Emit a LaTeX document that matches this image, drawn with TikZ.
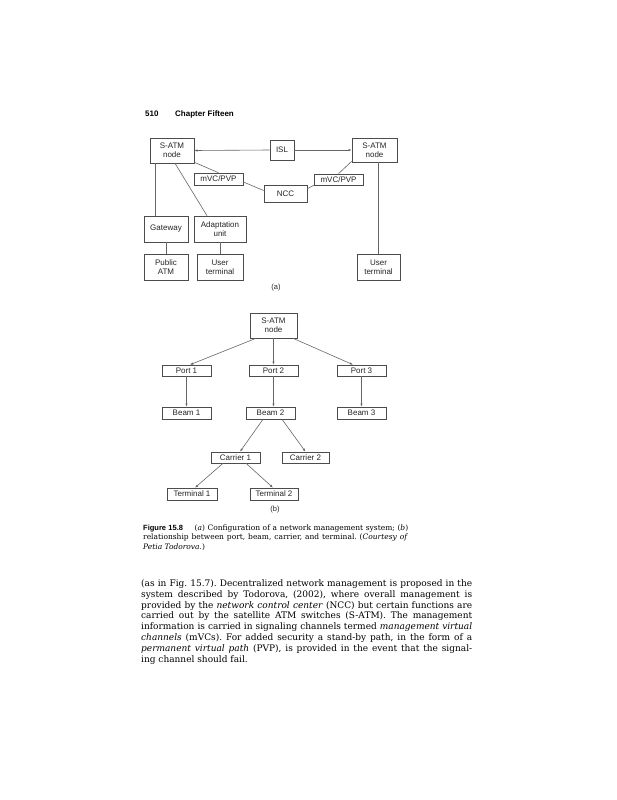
\documentclass[tikz,border=0pt]{standalone}
\usepackage{fontspec}
\setmainfont{DejaVu Serif}
\setsansfont{Liberation Sans}
\usetikzlibrary{arrows.meta}
\frenchspacing
\newcommand{\bodyfnt}{\fontsize{9}{11}\selectfont\rmfamily}
\newcommand{\capfnt}{\fontsize{7.5}{9}\selectfont\rmfamily}
\newcommand{\boxfnt}{\fontsize{8}{9}\selectfont\sffamily}
\begin{document}
\begin{tikzpicture}[x=1pt,y=-1pt,
  box/.style={draw=black!70, line width=0.6pt, fill=white, inner sep=0pt, font=\boxfnt, align=center, text=black!85},
  conn/.style={draw=black!60, line width=0.6pt},
  arr/.style={conn, -{Latex[length=3.2pt,width=2.4pt]}},
  lbl/.style={font=\fontsize{7.5}{8}\selectfont\sffamily, inner sep=0pt, text=black!85},
  txt/.style={anchor=base west, inner sep=0pt, text=black},
]
\useasboundingbox[fill=white] (0,0) rectangle (617,800);

% header
\node[txt, font=\fontsize{8}{9}\selectfont\sffamily\bfseries] (pg) at (145,116.5) {510};
\node[txt, font=\fontsize{8}{9}\selectfont\sffamily\bfseries] (chap) at (175,116.5) {Chapter Fifteen};

% ---------- diagram (a) ----------
\node[box, minimum width=44pt, minimum height=25pt] (satmL) at (172,150.5) {S-ATM\\node};
\node[box, minimum width=24pt, minimum height=20pt] (isl) at (282,150) {ISL};
\node[box, minimum width=45pt, minimum height=24pt] (satmR) at (374.5,150) {S-ATM\\node};
\node[box, minimum width=49pt, minimum height=12pt] (mvcL) at (218.5,179) {mVC/PVP};
\node[box, minimum width=43pt, minimum height=17pt] (ncc) at (285.5,193.5) {NCC};
\node[box, minimum width=49pt, minimum height=11pt] (mvcR) at (338.5,179.5) {mVC/PVP};
\node[box, minimum width=44pt, minimum height=26pt] (gate) at (166,229) {Gateway};
\node[box, minimum width=52pt, minimum height=26pt] (adapt) at (220,229) {Adaptation\\unit};
\node[box, minimum width=44pt, minimum height=26pt] (pub) at (166,267) {Public\\ATM};
\node[box, minimum width=46pt, minimum height=26pt] (userL) at (220,267) {User\\terminal};
\node[box, minimum width=43pt, minimum height=26pt] (userR) at (378.5,267) {User\\terminal};
\node[lbl] (la) at (276,288) {(a)};

\draw[arr] (isl.west) -- (satmL.east);
\draw[arr] (isl.east) -- (satmR.west);
\draw[conn] ([yshift=1pt]satmL.south east) -- (mvcL.north);
\draw[conn] ([yshift=-3pt]mvcL.east) -- ([yshift=3pt]ncc.west);
\draw[conn] ([yshift=-4pt]ncc.north east) -- (mvcR.south west);
\draw[conn] (mvcR.north) -- ([yshift=1pt]satmR.south west);
\coordinate (gtop) at ([xshift=6pt]satmL.south west);
\draw[conn] (gtop) -- (gtop |- gate.north);
\draw[conn] ([xshift=3pt]satmL.south) -- ([xshift=-13pt]adapt.north);
\draw[conn] (gate.south) -- (pub.north);
\draw[conn] (adapt.south) -- (userL.north);
\draw[conn] (userR.north |- satmR.south) -- (userR.north);

% ---------- diagram (b) ----------
\node[box, minimum width=47pt, minimum height=25pt] (satmB) at (273.5,325.5) {S-ATM\\node};
\node[box, minimum width=49pt, minimum height=11pt] (port1) at (186.5,370.5) {Port 1};
\node[box, minimum width=49pt, minimum height=11pt] (port2) at (273.5,370.5) {Port 2};
\node[box, minimum width=49pt, minimum height=11pt] (port3) at (361.5,370.5) {Port 3};
\node[box, minimum width=49pt, minimum height=12pt] (beam1) at (186.5,413) {Beam 1};
\node[box, minimum width=49pt, minimum height=12pt] (beam2) at (270.5,413) {Beam 2};
\node[box, minimum width=49pt, minimum height=12pt] (beam3) at (361.5,413) {Beam 3};
\node[box, minimum width=49pt, minimum height=11pt] (car1) at (235.5,457.5) {Carrier 1};
\node[box, minimum width=47pt, minimum height=11pt] (car2) at (305.5,457.5) {Carrier 2};
\node[box, minimum width=50pt, minimum height=12pt] (term1) at (192,494) {Terminal 1};
\node[box, minimum width=48pt, minimum height=12pt] (term2) at (274,494) {Terminal 2};
\node[lbl] (lb) at (275,510) {(b)};

\draw[arr] ([xshift=-17.5pt]satmB.south) -- ([xshift=3.5pt]port1.north);
\draw[arr] (satmB.south) -- (port2.north);
\draw[arr] ([xshift=19.5pt]satmB.south) -- ([xshift=-8.5pt]port3.north);
\draw[arr] (port1.south) -- (beam1.north);
\draw[arr] (port2.south) -- (port2.south |- beam2.north);
\draw[arr] (port3.south) -- (beam3.north);
\draw[arr] ([xshift=-7.5pt]beam2.south) -- ([xshift=4.5pt]car1.north);
\draw[arr] ([xshift=11.5pt]beam2.south) -- (car2.north);
\draw[arr] ([xshift=-12.5pt]car1.south) -- ([xshift=3pt]term1.north);
\draw[arr] ([xshift=10.5pt]car1.south) -- ([xshift=-1pt]term2.north);

% ---------- caption ----------
\node[txt, font=\capfnt] (c1) at (143,530) {\makebox[265pt][s]{{\sffamily\bfseries Figure 15.8}\hspace{1.2em} (\textit{a}) Configuration of a network management system; (\textit{b})}};
\node[txt, font=\capfnt] (c2) at (143,539.5) {\makebox[265pt][s]{relationship between port, beam, carrier, and terminal. (\textit{Courtesy of}}};
\node[txt, font=\capfnt] (c3) at (143,549) {\textit{Petia Todorova.})};

% ---------- body text ----------
\node[txt, font=\bodyfnt] (t1) at (141,586.5) {\makebox[331pt][s]{(as in Fig. 15.7). Decentralized network management is proposed in the}};
\node[txt, font=\bodyfnt] (t2) at (141,597.3) {\makebox[331pt][s]{system described by Todorova, (2002), where overall management is}};
\node[txt, font=\bodyfnt] (t3) at (141,608.1) {\makebox[331pt][s]{provided by the \textit{network control center} (NCC) but certain functions are}};
\node[txt, font=\bodyfnt] (t4) at (141,618.9) {\makebox[331pt][s]{carried out by the satellite ATM switches (S-ATM). The management}};
\node[txt, font=\bodyfnt] (t5) at (141,629.7) {\makebox[331pt][s]{information is carried in signaling channels termed \textit{management virtual}}};
\node[txt, font=\bodyfnt] (t6) at (141,640.5) {\makebox[331pt][s]{\textit{channels} (mVCs). For added security a stand-by path, in the form of a}};
\node[txt, font=\bodyfnt] (t7) at (141,651.3) {\makebox[331pt][s]{\textit{permanent virtual path} (PVP), is provided in the event that the signal-}};
\node[txt, font=\bodyfnt] (t8) at (141,662.1) {ing channel should fail.};
\end{tikzpicture}
\end{document}
